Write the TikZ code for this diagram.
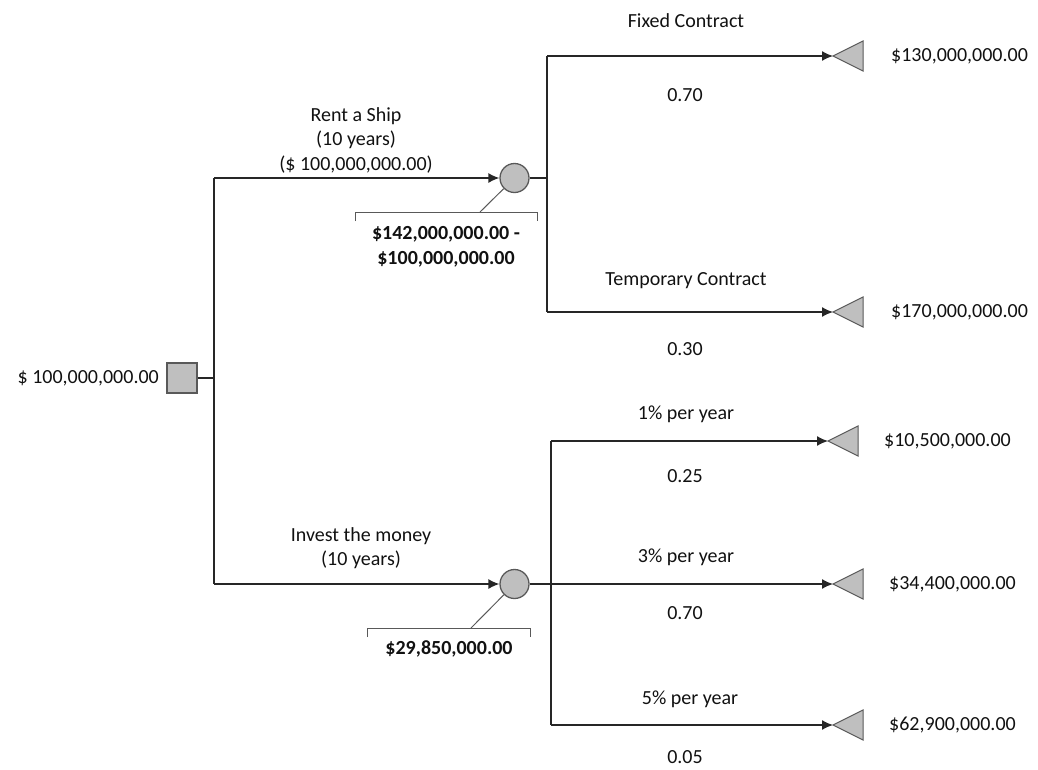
\documentclass[tikz,border=0pt]{standalone}
\usepackage{fontspec}
\setmainfont{Carlito}
\usetikzlibrary{arrows.meta}
\definecolor{ln}{HTML}{262626}
\definecolor{shfill}{HTML}{BFBFBF}
\definecolor{shdraw}{HTML}{595959}
\definecolor{txt}{HTML}{111111}
\tikzset{
  lbl/.style={inner sep=0pt, text=txt, font=\fontsize{20}{24.5}\selectfont, align=center},
  blbl/.style={lbl, font=\fontsize{20}{24.5}\selectfont\bfseries},
  wire/.style={draw=ln, line width=1.3pt},
  arr/.style={wire, -{Latex[length=11pt,width=10pt]}},
  chance/.style={circle, fill=shfill, draw=shdraw, line width=1.3pt, minimum size=29pt, inner sep=0pt},
  decision/.style={rectangle, fill=shfill, draw=shdraw, line width=1.6pt, minimum size=30pt, inner sep=0pt},
  leaf/.style={fill=shfill, draw=shdraw, line width=1pt},
  brk/.style={draw=shdraw, line width=1pt},
}
\begin{document}
\begin{tikzpicture}[x=1pt,y=-1pt]
\useasboundingbox (0,0) rectangle (1038,769);
% nodes
\node[decision] (sq) at (182,378) {};
\node[lbl, anchor=east] (sqv) at (159,378) {\$ 100,000,000.00};
\node[chance] (c1) at (514.5,178) {};
\node[chance] (c2) at (514.5,584) {};
% junctions
\coordinate (ja) at (214,178);
\coordinate (jb) at (214,584);
\coordinate (k1t) at (547,56);
\coordinate (k1b) at (547,312);
\coordinate (k2t) at (551,441);
\coordinate (k2b) at (551,725);
% leaf tips
\coordinate (t1) at (833,56);
\coordinate (t2) at (833,312);
\coordinate (t3) at (828,441);
\coordinate (t4) at (833,584);
\coordinate (t5) at (833,725);
\foreach \t in {t1,t2,t3,t4,t5}{
  \draw[leaf] (\t) -- ++(30,-15) -- ++(0,30) -- cycle;
}
% connectors
\draw[wire] (sq.east) -- (sq.east -| ja);
\draw[wire] (ja) -- (jb);
\draw[arr] (ja) -- (c1.west);
\draw[arr] (jb) -- (c2.west);
\draw[wire] (c1.east) -- (c1.east -| k1t);
\draw[wire] (k1t) -- (k1b);
\draw[arr] (k1t) -- (t1);
\draw[arr] (k1b) -- (t2);
\draw[wire] (k2t) -- (k2b);
\draw[arr] (c2.east) -- (t4);
\draw[arr] (k2t) -- (t3);
\draw[arr] (k2b) -- (t5);
% brackets
\coordinate (b1) at (480,212);
\draw[brk] (355,221) -- (355,212) -- (537,212) -- (537,221);
\draw[brk] (c1) -- (b1);
\coordinate (b2) at (471,628);
\draw[brk] (367,637) -- (367,628) -- (530,628) -- (530,637);
\draw[brk] (c2) -- (b2);
% labels
\node[lbl] (lr) at (356,140) {Rent a Ship\\(10 years)\\(\$ 100,000,000.00)};
\node[blbl] (v1) at (446,247) {\$142,000,000.00 -\\\$100,000,000.00};
\node[lbl] (li) at (361,548) {Invest the money\\(10 years)};
\node[blbl] (v2) at (449,649) {\$29,850,000.00};
\node[lbl] (l1) at (686,21) {Fixed Contract};
\node[lbl] (p1) at (685,95) {0.70};
\node[lbl] (l2) at (686,281) {Temporary Contract};
\node[lbl] (p2) at (685,349) {0.30};
\node[lbl] (l3) at (686,414) {1\% per year};
\node[lbl] (p3) at (685,476) {0.25};
\node[lbl] (l4) at (686,557) {3\% per year};
\node[lbl] (p4) at (685,613) {0.70};
\node[lbl] (l5) at (690,699) {5\% per year};
\node[lbl] (p5) at (685,757) {0.05};
\node[lbl, anchor=west] (o1) at (891,56) {\$130,000,000.00};
\node[lbl, anchor=west] (o2) at (891,312) {\$170,000,000.00};
\node[lbl, anchor=west] (o3) at (884,441) {\$10,500,000.00};
\node[lbl, anchor=west] (o4) at (889,584) {\$34,400,000.00};
\node[lbl, anchor=west] (o5) at (889,725) {\$62,900,000.00};
\end{tikzpicture}
\end{document}
